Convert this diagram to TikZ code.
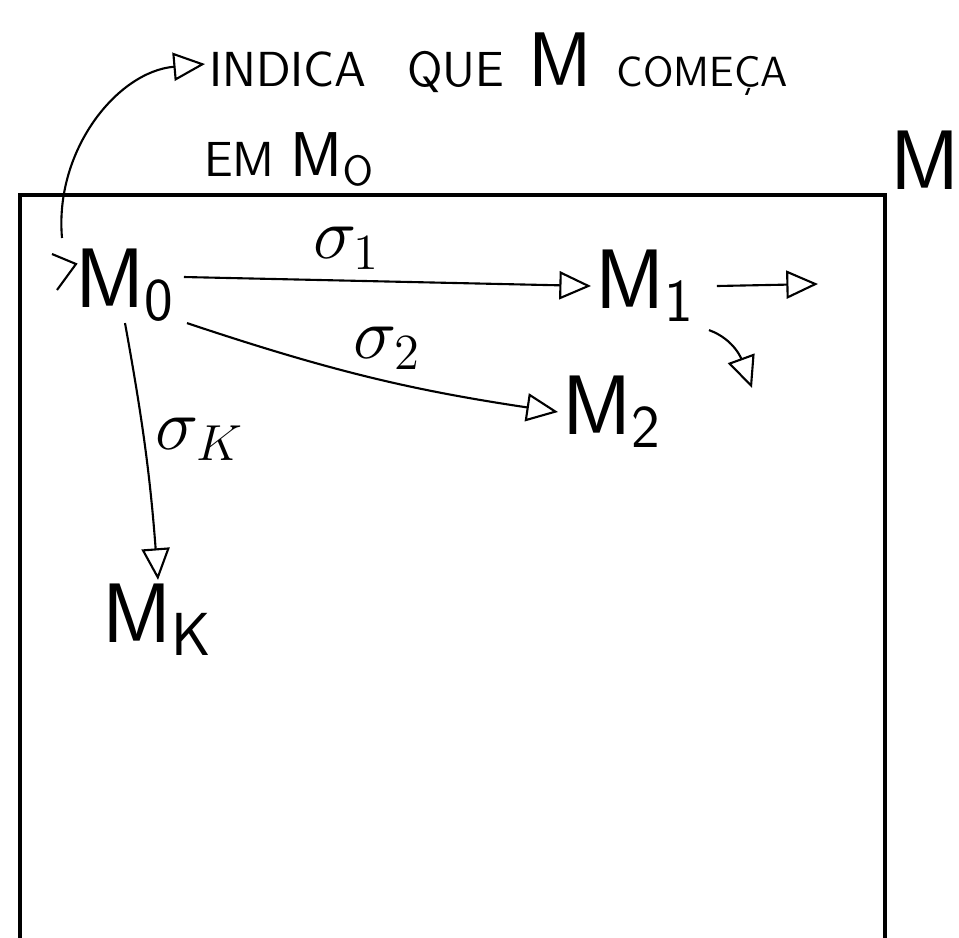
\documentclass[tikz,border=0pt]{standalone}
\usepackage{amsmath, amssymb}
\usepackage{tikz}
\usetikzlibrary{arrows.meta,positioning,calc}
\tikzset{
  statenode/.style={inner sep=1pt, font=\fontsize{24}{26}\selectfont\sffamily},
  notenode/.style ={inner sep=1pt, font=\fontsize{14}{16}\selectfont\sffamily, anchor=west},
  tarr/.style     ={-{Triangle[open,length=9pt,width=8pt]}, semithick},
  lbl/.style      ={font=\fontsize{20}{22}\selectfont, inner sep=3pt},
}

\begin{document}
\begin{tikzpicture}[x=0.01cm,y=-0.01cm]
  \useasboundingbox (0,0) rectangle (959,938);
  % machine M
  \draw[line width=1.2pt] (20,960) -- (20,195) -- (885,195) -- (885,960);
  \node[statenode] (mlabel) at (925,160) {M};
  % note
  \node[notenode] (note1) at (205,64) {INDICA\enspace\ QUE\enspace {\fontsize{22}{24}\selectfont M}\enspace{\fontsize{12}{14}\selectfont COME\c{C}A}};
  \node[notenode, anchor=north west] (note2) at (200,128) {EM\ {\fontsize{18}{20}\selectfont M$_{\mathsf{O}}$}};
  % states
  \node[statenode] (m0) at (125,285) {M$_{\mathsf{0}}$};
  \node[statenode] (m1) at (645,286) {M$_{\mathsf{1}}$};
  \node[statenode] (m2) at (612,412) {M$_{\mathsf{2}}$};
  \node[statenode] (mk) at (158,620) {M$_{\mathsf{K}}$};
  % start mark
  \draw[semithick] (52,254) -- (76,264) -- (57,290);
  \coordinate (start) at (62,238);
  \draw[tarr] (start) to[out=95,in=185] (note1.west);
  % transitions
  \draw[tarr] (m0.east) ++(5,-8) coordinate (a1) -- node[lbl, pos=0.4, above] {$\sigma_1$} (m1.west);
  \draw[tarr] (m0.south east) ++(8,-2) coordinate (a2) to[bend right=5] node[lbl, pos=0.55, above] {$\sigma_2$} (m2.west);
  \draw[tarr] (m0.south) ++(0,-2) coordinate (ak) to[bend left=3] node[lbl, pos=0.45, right] {$\sigma_K$} (mk.north);
  % outgoing from M1
  \coordinate (out1) at (818,284);
  \coordinate (out2) at (752,388);
  \draw[tarr] (m1.east) ++(18,0) coordinate (b1) -- (out1);
  \draw[tarr] (m1.south east) ++(10,4) coordinate (b2) to[out=-20,in=110] (out2);
\end{tikzpicture}
\end{document}
